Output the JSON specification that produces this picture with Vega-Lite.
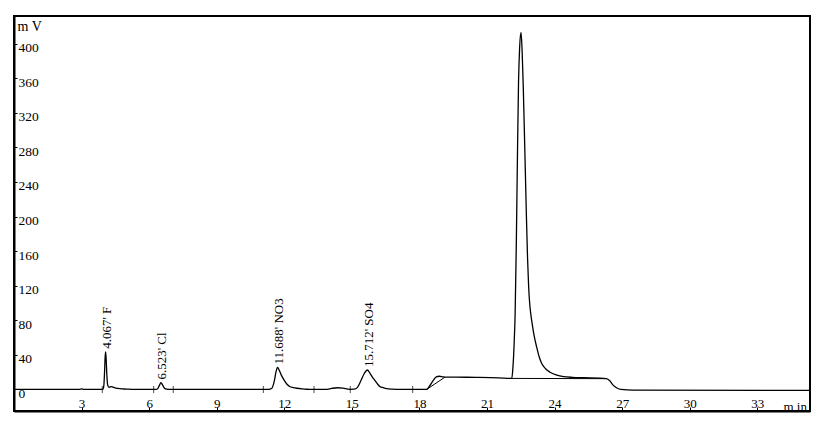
{
  "$schema": "https://vega.github.io/schema/vega-lite/v6.json",
  "width": 796,
  "height": 395,
  "autosize": {"type": "none"},
  "padding": {"left": 14, "top": 16, "right": 15, "bottom": 16},
  "background": "white",
  "config": {
    "view": {"stroke": "black", "strokeWidth": 2},
    "font": "Liberation Serif",
    "axis": {"labelOverlap": false, "labelFlush": false}
  },
  "datasets": {
    "signal": [
      {"t": 0, "mV": 0}, {"t": 2.9, "mV": 0}, {"t": 3.0, "mV": 0.6}, {"t": 3.1, "mV": 0},
      {"t": 3.85, "mV": 0}, {"t": 3.95, "mV": 0.5}, {"t": 3.99, "mV": 5}, {"t": 4.02, "mV": 20},
      {"t": 4.045, "mV": 37}, {"t": 4.067, "mV": 43.5}, {"t": 4.09, "mV": 36}, {"t": 4.12, "mV": 18},
      {"t": 4.16, "mV": 5}, {"t": 4.22, "mV": 2.5}, {"t": 4.32, "mV": 3.4}, {"t": 4.45, "mV": 2.2},
      {"t": 4.6, "mV": 1.2}, {"t": 4.8, "mV": 0.6}, {"t": 5.0, "mV": 0.5}, {"t": 5.2, "mV": 0.2},
      {"t": 5.6, "mV": 0}, {"t": 6.3, "mV": 0}, {"t": 6.38, "mV": 0.8}, {"t": 6.45, "mV": 4.5},
      {"t": 6.523, "mV": 8}, {"t": 6.6, "mV": 5}, {"t": 6.68, "mV": 1.5}, {"t": 6.78, "mV": 0.3},
      {"t": 6.9, "mV": 0}, {"t": 11.3, "mV": 0}, {"t": 11.45, "mV": 1.5}, {"t": 11.55, "mV": 9},
      {"t": 11.63, "mV": 20}, {"t": 11.7, "mV": 25.5}, {"t": 11.78, "mV": 22}, {"t": 11.88, "mV": 16},
      {"t": 12.0, "mV": 10.5}, {"t": 12.12, "mV": 6}, {"t": 12.24, "mV": 3.5}, {"t": 12.4, "mV": 2.2},
      {"t": 12.55, "mV": 1.4}, {"t": 12.8, "mV": 0.6}, {"t": 13.1, "mV": 0.2}, {"t": 13.3, "mV": 0},
      {"t": 13.9, "mV": 0.2}, {"t": 14.1, "mV": 1.2}, {"t": 14.35, "mV": 2}, {"t": 14.6, "mV": 1.5},
      {"t": 14.9, "mV": 0.2}, {"t": 15.1, "mV": 0.3}, {"t": 15.25, "mV": 2.5}, {"t": 15.4, "mV": 10},
      {"t": 15.55, "mV": 18.5}, {"t": 15.69, "mV": 22.5}, {"t": 15.8, "mV": 19}, {"t": 15.92, "mV": 14},
      {"t": 16.02, "mV": 10.5}, {"t": 16.15, "mV": 6}, {"t": 16.24, "mV": 3.5}, {"t": 16.4, "mV": 2},
      {"t": 16.54, "mV": 1}, {"t": 16.8, "mV": 0.4}, {"t": 17.2, "mV": 0.1}, {"t": 18.3, "mV": 0},
      {"t": 18.45, "mV": 4}, {"t": 18.6, "mV": 10}, {"t": 18.75, "mV": 14.5}, {"t": 18.88, "mV": 15.3},
      {"t": 19.05, "mV": 14.5}, {"t": 19.2, "mV": 14.2}, {"t": 19.6, "mV": 14.2}, {"t": 20.5, "mV": 14.0},
      {"t": 21.5, "mV": 13.5}, {"t": 22.1, "mV": 12.8}, {"t": 22.15, "mV": 25}, {"t": 22.2, "mV": 50},
      {"t": 22.25, "mV": 89}, {"t": 22.3, "mV": 166}, {"t": 22.35, "mV": 267}, {"t": 22.4, "mV": 356},
      {"t": 22.45, "mV": 396}, {"t": 22.51, "mV": 413}, {"t": 22.56, "mV": 391}, {"t": 22.61, "mV": 350},
      {"t": 22.65, "mV": 308}, {"t": 22.7, "mV": 254}, {"t": 22.75, "mV": 200}, {"t": 22.8, "mV": 152},
      {"t": 22.85, "mV": 118}, {"t": 22.9, "mV": 98}, {"t": 22.95, "mV": 86}, {"t": 23.0, "mV": 77},
      {"t": 23.1, "mV": 61}, {"t": 23.21, "mV": 48.5},
      {"t": 23.32, "mV": 37.5}, {"t": 23.43, "mV": 30}, {"t": 23.6, "mV": 24}, {"t": 23.8, "mV": 20},
      {"t": 24.1, "mV": 16.5}, {"t": 24.4, "mV": 14.8}, {"t": 24.8, "mV": 14}, {"t": 25.3, "mV": 13.6},
      {"t": 26.0, "mV": 13.2}, {"t": 26.3, "mV": 12.5}, {"t": 26.45, "mV": 10}, {"t": 26.6, "mV": 5},
      {"t": 26.75, "mV": 2}, {"t": 26.95, "mV": 0}, {"t": 27.5, "mV": -0.8}, {"t": 35.34, "mV": -1}
    ],
    "integration": [
      {"t": 18.32, "mV": 0, "seg": "a"}, {"t": 19.13, "mV": 14.2, "seg": "a"},
      {"t": 22.1, "mV": 12.8, "seg": "b"}, {"t": 26.3, "mV": 12.5, "seg": "b"}
    ],
    "bounds": [
      {"t": 3.92}, {"t": 6.2}, {"t": 7.07}, {"t": 11.07}, {"t": 13.32}, {"t": 14.93}, {"t": 17.7}
    ],
    "peaks": [
      {"t": 4.067, "h": 43.5, "label": "4.067' F"},
      {"t": 6.523, "h": 8, "label": "6.523' Cl"},
      {"t": 11.688, "h": 25.5, "label": "11.688' NO3"},
      {"t": 15.712, "h": 22.5, "label": "15.712' SO4"}
    ]
  },
  "layer": [
    {
      "data": {"name": "signal"},
      "mark": {"type": "line", "color": "black", "strokeWidth": 1.3, "interpolate": "monotone"},
      "encoding": {
        "x": {
          "field": "t", "type": "quantitative",
          "scale": {"domain": [0, 35.34], "nice": false, "zero": false},
          "axis": {
            "values": [3, 6, 9, 12, 15, 18, 21, 24, 27, 30, 33], "tickCount": 40,
            "title": "m in", "titleX": 769, "titleY": -0.5, "titleAlign": "left",
            "titleBaseline": "alphabetic", "titleFont": "Liberation Serif", "titleFontSize": 13,
            "titleFontWeight": "normal", "titleColor": "black",
            "labelFont": "Liberation Serif", "labelFontSize": 13, "labelColor": "black",
            "labelPadding": 0, "labelBaseline": "alphabetic", "labelFlush": false, "labelOverlap": false,
            "tickSize": -4, "tickColor": "black", "domainColor": "black", "domainWidth": 2, "grid": false
          }
        },
        "y": {
          "field": "mV", "type": "quantitative",
          "scale": {"domain": [-24.9, 432], "nice": false, "zero": false},
          "axis": {
            "values": [0, 40, 80, 120, 160, 200, 240, 280, 320, 360, 400], "tickCount": 40,
            "title": "m V", "titleAngle": 0, "titleX": 3, "titleY": 14, "titleAlign": "left",
            "titleBaseline": "alphabetic", "titleFont": "Liberation Serif", "titleFontSize": 14,
            "titleFontWeight": "normal", "titleColor": "black",
            "labelFont": "Liberation Serif", "labelFontSize": 13.5, "labelColor": "black",
            "labelAlign": "left", "labelBaseline": "middle", "labelOffset": 4, "labelPadding": -1,
            "labelFlush": false, "labelOverlap": false,
            "tickSize": -3, "tickColor": "black", "domainColor": "black", "domainWidth": 2, "grid": false
          }
        }
      }
    },
    {
      "data": {"name": "integration"},
      "mark": {"type": "line", "color": "black", "strokeWidth": 1},
      "encoding": {
        "x": {"field": "t", "type": "quantitative", "scale": {"domain": [0, 35.34], "nice": false, "zero": false}},
        "y": {"field": "mV", "type": "quantitative", "scale": {"domain": [-24.9, 432], "nice": false, "zero": false}},
        "detail": {"field": "seg"}
      }
    },
    {
      "data": {"name": "bounds"},
      "mark": {"type": "tick", "orient": "vertical", "color": "black", "thickness": 1, "size": 7},
      "encoding": {
        "x": {"field": "t", "type": "quantitative", "scale": {"domain": [0, 35.34], "nice": false, "zero": false}},
        "y": {"datum": 0, "type": "quantitative", "scale": {"domain": [-24.9, 432], "nice": false, "zero": false}}
      }
    },
    {
      "data": {"name": "peaks"},
      "mark": {"type": "text", "angle": 270, "align": "left", "baseline": "middle", "dx": 3, "dy": 1.5,
               "font": "Liberation Serif", "fontSize": 13, "color": "black"},
      "encoding": {
        "x": {"field": "t", "type": "quantitative", "scale": {"domain": [0, 35.34], "nice": false, "zero": false}},
        "y": {"field": "h", "type": "quantitative", "scale": {"domain": [-24.9, 432], "nice": false, "zero": false}},
        "text": {"field": "label"}
      }
    }
  ]
}
